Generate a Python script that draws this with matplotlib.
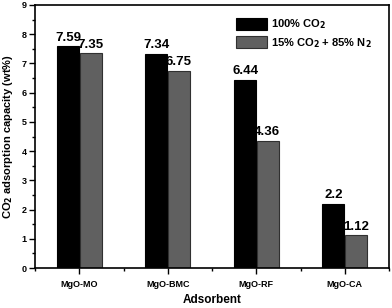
import numpy as np
import matplotlib.pyplot as plt
from matplotlib.ticker import MultipleLocator

# === Dati ===
adsorbents = ['MgO-MO', 'MgO-BMC', 'MgO-RF', 'MgO-CA']
co2_pure = [7.59, 7.34, 6.44, 2.2]
co2_mix = [7.35, 6.75, 4.36, 1.12]
labels_pure = ['7.59', '7.34', '6.44', '2.2']
labels_mix = ['7.35', '6.75', '4.36', '1.12']

plt.rcParams['font.family'] = ['Liberation Sans', 'DejaVu Sans']
plt.rcParams['font.weight'] = 'bold'
plt.rcParams['mathtext.default'] = 'bf'

fig = plt.figure(figsize=(3.92, 3.08), dpi=100)
ax = fig.add_axes([35/392, 1 - 268/308, 354/392, 263/308])

x = np.arange(1, len(adsorbents) + 1)
w = 0.25
ax.bar(x - w/2 - 0.005, co2_pure, w, color='black', edgecolor='black', linewidth=0.8,
       label='100% CO$_2$')
ax.bar(x + w/2 + 0.005, co2_mix, w, color='#606060', edgecolor='#303030', linewidth=0.8,
       label='15% CO$_2$ + 85% N$_2$')

# etichette dei valori
for xi, v, t in zip(x - w/2, co2_pure, labels_pure):
    ax.text(xi, v + 0.08, t, ha='center', va='bottom', fontsize=9.5, fontweight='bold')
for xi, v, t in zip(x + w/2, co2_mix, labels_mix):
    ax.text(xi, v + 0.08, t, ha='center', va='bottom', fontsize=9.5, fontweight='bold')

ax.set_xlim(0.5, 4.5)
ax.set_ylim(0, 9)
ax.set_xticks(x)
ax.set_xticklabels(adsorbents, fontsize=6.5, fontweight='bold')
ax.xaxis.set_minor_locator(MultipleLocator(1.0, offset=0.5))
ax.yaxis.set_major_locator(MultipleLocator(1))
ax.yaxis.set_minor_locator(MultipleLocator(0.5))
ax.tick_params(axis='y', labelsize=6.5, direction='out', length=4, width=1, pad=2)
ax.tick_params(axis='x', direction='out', length=4, width=1, pad=4.5)
ax.tick_params(which='minor', direction='out', length=2.5, width=1)
for s in ax.spines.values():
    s.set_linewidth(1.2)

ax.set_xlabel('Adsorbent', fontsize=8.5, fontweight='bold', labelpad=4)
ax.set_ylabel('CO$_2$ adsorption capacity (wt%)', fontsize=8, fontweight='bold', labelpad=5)

ax.legend(loc='upper right', bbox_to_anchor=(0.98, 0.99), frameon=False,
          handlelength=2.8, handleheight=1.3, labelspacing=0.4, handletextpad=0.4,
          prop={'weight': 'bold', 'size': 8})

fig.savefig('out.png', dpi=100)
